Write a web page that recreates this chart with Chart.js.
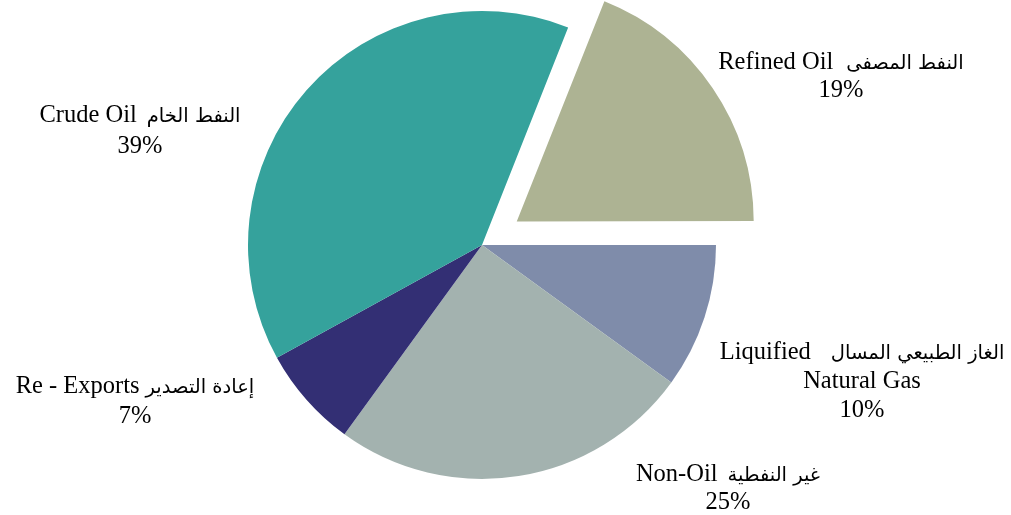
<!DOCTYPE html>
<html>
<head>
<meta charset="utf-8">
<script src="https://cdn.jsdelivr.net/npm/chart.js@4.4.0/dist/chart.umd.min.js"></script>
<style>
  body { margin: 0; background: #ffffff; }
  #wrap { width: 1011px; height: 515px; }
</style>
</head>
<body>
<div id="wrap"><canvas id="pieChart" width="1011" height="515"></canvas></div>
<script>
// Slices in clockwise order starting from the exploded one
const namesEn = [['Refined Oil'], ['Liquified', 'Natural Gas'], ['Non-Oil'], ['Re - Exports'], ['Crude Oil']];
const namesAr = ['النفط المصفى', 'الغاز الطبيعي المسال', 'غير النفطية', 'إعادة التصدير', 'النفط الخام'];
const shares = [19, 10, 25, 7, 39];
const sliceColors = ['#ADB393', '#7F8CAA', '#A3B2AF', '#332F74', '#35A29C'];

// label placement relative to pie centre (first baseline), line gap, space before arabic
const labelSpots = [
  { dx: 359, dy: -176, gap: 28, sp: 13 },
  { dx: 380, dy: 114, gap: 29, sp: 20 },
  { dx: 246, dy: 236, gap: 28, sp: 10 },
  { dx: -347, dy: 148, gap: 30, sp: 6 },
  { dx: -342, dy: -123, gap: 31, sp: 10 }
];

const enFont = '24.5px "Liberation Serif", "DejaVu Serif", serif';
const arFont = '19.5px "DejaVu Sans", sans-serif';

const sliceLabels = {
  id: 'sliceLabels',
  afterDraw(chart) {
    const ctx = chart.ctx;
    const arc = chart.getDatasetMeta(0).data[0];
    const cx = arc.x, cy = arc.y;
    ctx.save();
    ctx.fillStyle = '#000000';
    ctx.textBaseline = 'alphabetic';
    ctx.direction = 'ltr';
    shares.forEach((v, i) => {
      const spot = labelSpots[i];
      const x = cx + spot.dx;
      let y = cy + spot.dy;
      // first line: english then arabic
      ctx.font = enFont;
      const enW = ctx.measureText(namesEn[i][0]).width;
      ctx.font = arFont;
      const arW = ctx.measureText(namesAr[i]).width;
      const left = x - (enW + spot.sp + arW) / 2;
      ctx.textAlign = 'left';
      ctx.font = enFont;
      ctx.fillText(namesEn[i][0], left, y);
      ctx.font = arFont;
      ctx.direction = 'rtl';
      ctx.textAlign = 'right';
      ctx.fillText(namesAr[i], left + enW + spot.sp + arW, y);
      ctx.direction = 'ltr';
      // remaining lines centred
      ctx.textAlign = 'center';
      ctx.font = enFont;
      const rest = namesEn[i].slice(1).concat([v + '%']);
      rest.forEach(t => {
        y += spot.gap;
        ctx.fillText(t, x, y);
      });
    });
    ctx.restore();
  }
};

new Chart(document.getElementById('pieChart'), {
  type: 'pie',
  data: {
    labels: namesAr,
    datasets: [{
      data: shares,
      backgroundColor: sliceColors,
      borderWidth: 0,
      offset: [168, 0, 0, 0, 0],
      radius: 234
    }]
  },
  options: {
    responsive: false,
    animation: false,
    rotation: 21.6,
    layout: { padding: { left: 0, right: 47, top: 0, bottom: 25 } },
    plugins: {
      legend: { display: false },
      tooltip: { enabled: false }
    }
  },
  plugins: [sliceLabels]
});
</script>
</body>
</html>
